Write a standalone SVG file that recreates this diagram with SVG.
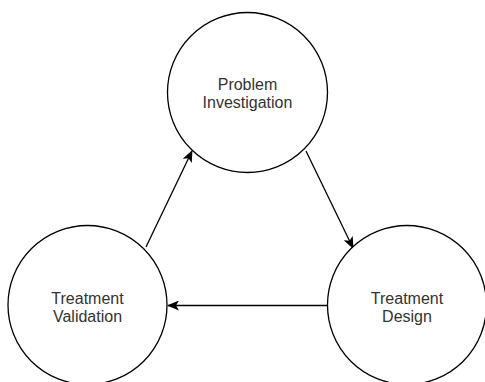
<svg xmlns="http://www.w3.org/2000/svg" width="485" height="382" viewBox="0 0 485 382">
  <style>
    .node circle { fill: #ffffff; stroke: #000000; stroke-width: 1.3; }
    .node text { font-family: "Liberation Sans", Arial, Helvetica, sans-serif; font-size: 16px; fill: #333333; text-anchor: middle; }
    .edge { fill: none; stroke: #000000; stroke-width: 1.3; marker-end: url(#arrow); }
  </style>
  <defs>
    <marker id="arrow" viewBox="0 0 12 10" refX="11" refY="5" markerWidth="12" markerHeight="10" markerUnits="userSpaceOnUse" orient="auto">
      <path d="M0,0 L12,5 L0,10 L3,5 Z" fill="#000000"/>
    </marker>
  </defs>
  <rect width="485" height="382" fill="#ffffff"/>

  <g id="connectors">
    <line class="edge" x1="306" y1="151" x2="353" y2="248"/>
    <line class="edge" x1="328" y1="305.5" x2="168" y2="305.5"/>
    <line class="edge" x1="146" y1="247" x2="192" y2="151"/>
  </g>

  <g id="problem-investigation" class="node">
    <circle cx="247.5" cy="92.5" r="80"/>
    <text x="247.5" y="89.5">Problem</text>
    <text x="247.5" y="107.5">Investigation</text>
  </g>

  <g id="treatment-design" class="node">
    <circle cx="407" cy="305" r="79.5"/>
    <text x="407" y="303.5">Treatment</text>
    <text x="407" y="321.5">Design</text>
  </g>

  <g id="treatment-validation" class="node">
    <circle cx="87.5" cy="305" r="79.5"/>
    <text x="87.5" y="303.5">Treatment</text>
    <text x="87.5" y="321.5">Validation</text>
  </g>
</svg>
